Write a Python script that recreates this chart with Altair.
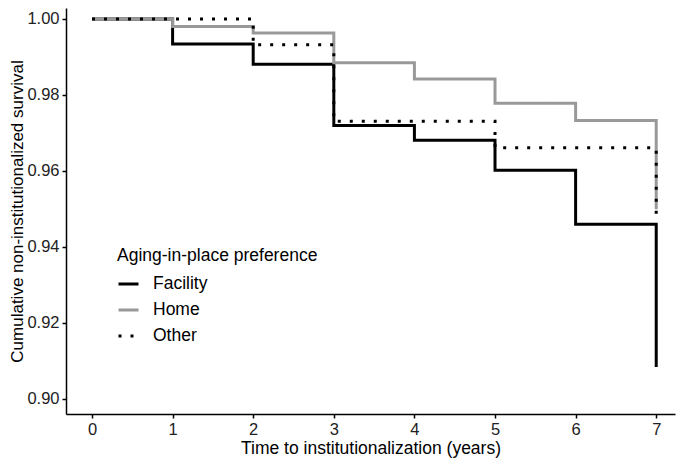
import altair as alt
import pandas as pd

# Kaplan-Meier style step curves (value holds until next time point)
time_points = [0, 1, 2, 3, 4, 5, 6, 7, 7]
facility = [1.0, 0.9934, 0.9881, 0.9720, 0.9681, 0.9602, 0.9460, 0.9460, 0.9084]
home = [1.0, 0.9980, 0.9963, 0.9885, 0.9842, 0.9778, 0.9733, 0.9733, 0.9499]
other = [1.0, 1.0, 0.9932, 0.9731, 0.9731, 0.9661, 0.9661, 0.9661, 0.9478]

groups = ["Facility", "Home", "Other"]
colors = ["#000000", "#999999", "#000000"]
dashes = [[1, 0], [1, 0], [3, 9]]
x_ticks = [0, 1, 2, 3, 4, 5, 6, 7]
y_ticks = [0.90, 0.92, 0.94, 0.96, 0.98, 1.00]

rows = []
for g, series in zip(groups, [facility, home, other]):
    for i, (t, s) in enumerate(zip(time_points, series)):
        rows.append({"group": g, "time": t, "surv": s, "idx": i})
df = pd.DataFrame(rows)

legend = alt.Legend(
    title="Aging-in-place preference",
    orient="none",
    legendX=51,
    legendY=239,
    titleLimit=0,
    labelLimit=0,
)

chart = (
    alt.Chart(df)
    .mark_line(interpolate="step-after", strokeWidth=3, clip=True)
    .encode(
        x=alt.X(
            "time:Q",
            scale=alt.Scale(domain=[-0.3226, 7.233], nice=False, zero=False),
            axis=alt.Axis(values=x_ticks, format="d",
                          title="Time to institutionalization (years)"),
        ),
        y=alt.Y(
            "surv:Q",
            scale=alt.Scale(domain=[0.89605, 1.00289], nice=False, zero=False),
            axis=alt.Axis(values=y_ticks, format=".2f",
                          title="Cumulative non-institutionalized survival"),
        ),
        color=alt.Color("group:N", scale=alt.Scale(domain=groups, range=colors),
                        legend=legend),
        strokeDash=alt.StrokeDash("group:N", scale=alt.Scale(domain=groups, range=dashes),
                                  legend=legend),
        order=alt.Order("idx:Q"),
    )
    .properties(
        width=609,
        height=406,
        autosize=alt.AutoSizeParams(type="none"),
        padding={"left": 58, "top": 0, "right": 2, "bottom": 46},
        background="white",
    )
    .configure_view(stroke=None)
    .configure_axis(
        grid=False,
        domainColor="#000000",
        domainWidth=1.5,
        tickColor="#000000",
        tickWidth=1.5,
        tickSize=4,
        labelFont="Liberation Sans",
        labelFontSize=16.5,
        labelColor="#222222",
        titleFont="Liberation Sans",
        titleFontSize=17,
        titleFontWeight="normal",
        titleColor="#000000",
    )
    .configure_axisX(labelPadding=3, titlePadding=2, titleFontSize=17.5)
    .configure_axisY(labelPadding=3, titlePadding=0)
    .configure_legend(
        titleFont="Liberation Sans",
        titleFontSize=17.5,
        titleFontWeight="normal",
        titleColor="#000000",
        titlePadding=8,
        labelFont="Liberation Sans",
        labelFontSize=17.5,
        labelColor="#000000",
        labelOffset=13,
        symbolType="stroke",
        symbolSize=400,
        symbolStrokeWidth=3,
        rowPadding=6,
        padding=0,
    )
)

chart.save("out.html", embed_options={"renderer": "svg", "actions": False})
